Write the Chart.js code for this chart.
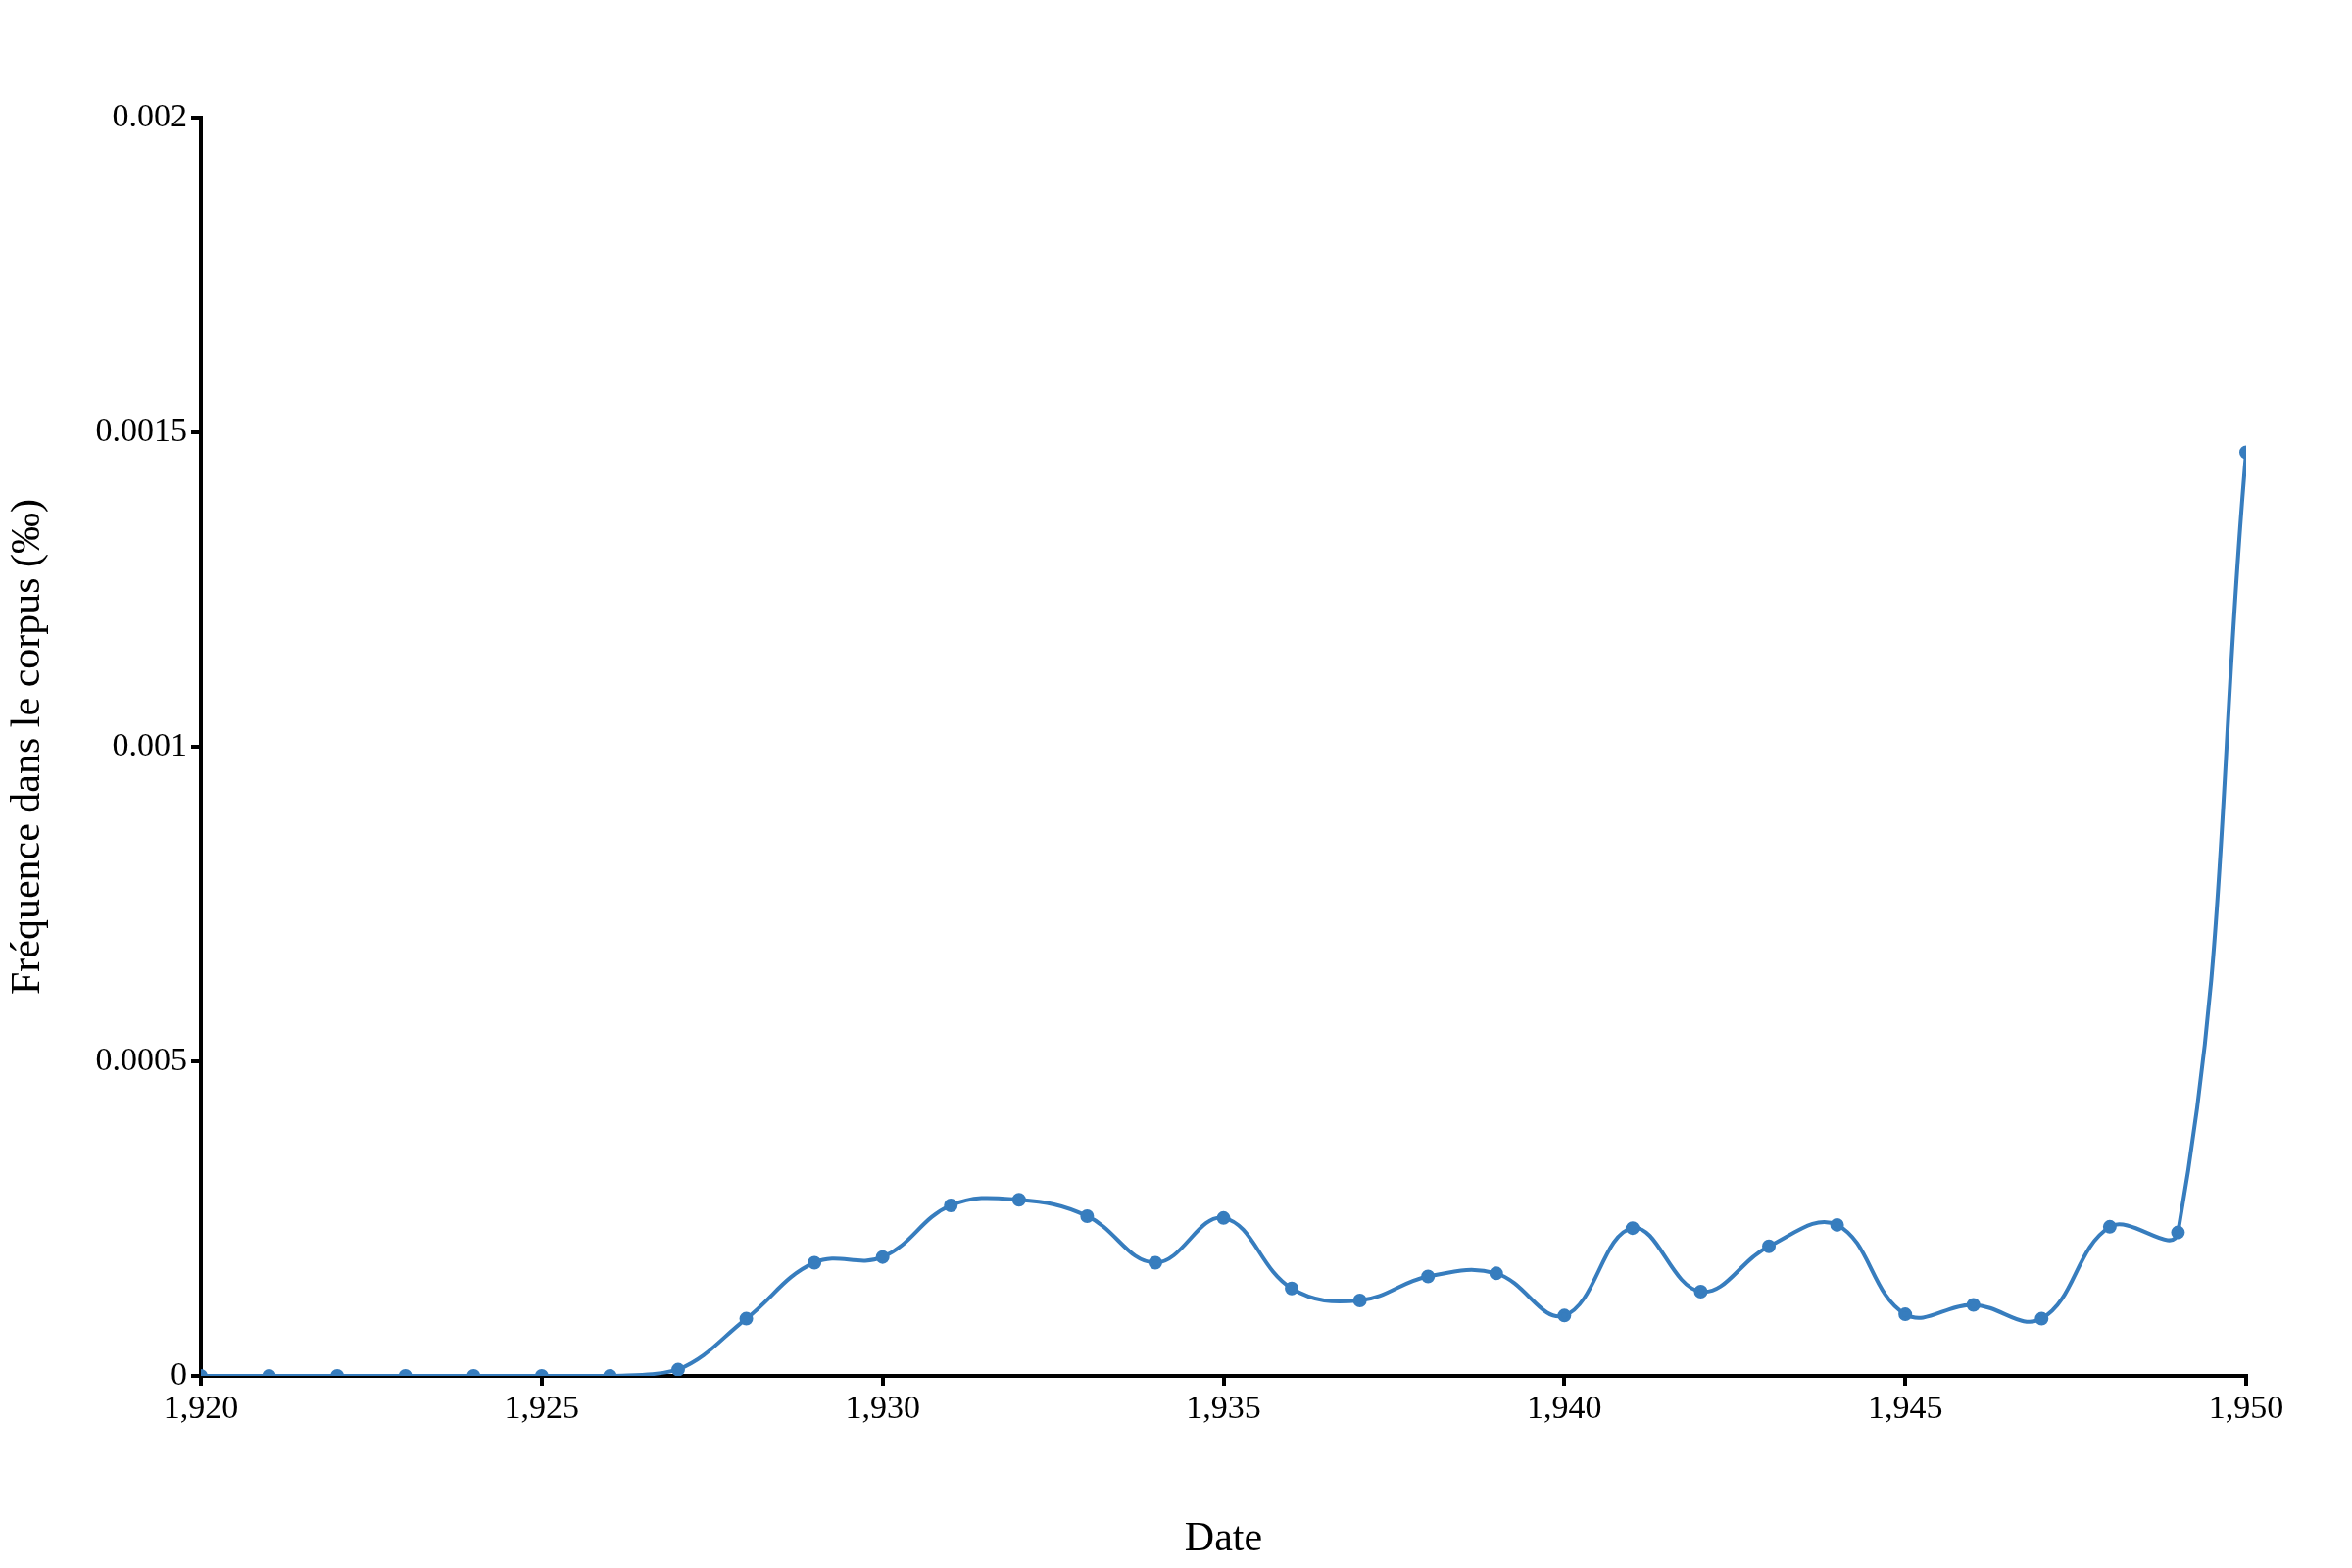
<!DOCTYPE html>
<html>
<head>
<meta charset="utf-8">
<script src="https://cdn.jsdelivr.net/npm/chart.js@4/dist/chart.umd.min.js"></script>
<style>
  html, body { margin: 0; padding: 0; background: #fff; }
  #chart { display: block; }
</style>
</head>
<body>
<canvas id="chart" width="2400" height="1600"></canvas>
<script>
"use strict";

const years = [1920, 1921, 1922, 1923, 1924, 1925, 1926, 1927, 1928, 1929, 1930,
  1931, 1932, 1933, 1934, 1935, 1936, 1937, 1938, 1939, 1940,
  1941, 1942, 1943, 1944, 1945, 1946, 1947, 1948, 1949, 1950];
const frequency = [0, 0, 0, 0, 0, 0, 0, 0.00001, 0.000091, 0.00018, 0.000189,
  0.000271, 0.00028, 0.000254, 0.00018, 0.000251, 0.000139, 0.00012, 0.000158, 0.000163, 0.000096,
  0.000235, 0.000134, 0.000206, 0.00024, 0.000098, 0.000113, 0.000091, 0.000237, 0.000228, 0.001468];
const yTicks = [0, 0.0005, 0.001, 0.0015, 0.002];

const font = "'Liberation Serif', 'DejaVu Serif', serif";
const lineColor = "rgba(55, 125, 190, 1)";

const chartSelector = document.getElementById("chart").getContext("2d");

const chartConfig = {
  type: "line",
  data: {
    datasets: [
      {
        label: "Fréquence",
        data: years.map((y, i) => ({ x: y, y: frequency[i] })),
        borderColor: lineColor,
        backgroundColor: lineColor,
        borderWidth: 4,
        pointRadius: 5,
        tension: 0.4,
      },
    ],
  },
  options: {
    responsive: false,
    animation: false,
    layout: { padding: { top: 120, right: 108, bottom: 0, left: 0 } },
    plugins: { legend: { display: false }, tooltip: { enabled: false } },
    scales: {
      x: {
        type: "linear",
        min: 1920,
        max: 1950,
        afterFit: (axis) => { axis.height = 196; },
        border: { color: "#000", width: 4 },
        grid: { drawOnChartArea: false, color: "#000", lineWidth: 4, tickLength: 10 },
        ticks: { stepSize: 5, color: "#000", font: { family: font, size: 34 }, padding: 4 },
        title: { display: true, text: "Date", color: "#000", font: { family: font, size: 42 } },
      },
      y: {
        min: 0,
        max: 0.002,
        afterFit: (axis) => { axis.width = 205; },
        afterBuildTicks: (axis) => { axis.ticks = yTicks.map((v) => ({ value: v })); },
        border: { color: "#000", width: 4 },
        grid: { drawOnChartArea: false, color: "#000", lineWidth: 4, tickLength: 10 },
        ticks: {
          color: "#000",
          font: { family: font, size: 34 },
          padding: 4,
          callback: (v) => String(v),
        },
        title: { display: true, text: "Fréquence dans le corpus (‰)", color: "#000", font: { family: font, size: 42 } },
      },
    },
  },
};

new Chart(chartSelector, chartConfig);
</script>
</body>
</html>
